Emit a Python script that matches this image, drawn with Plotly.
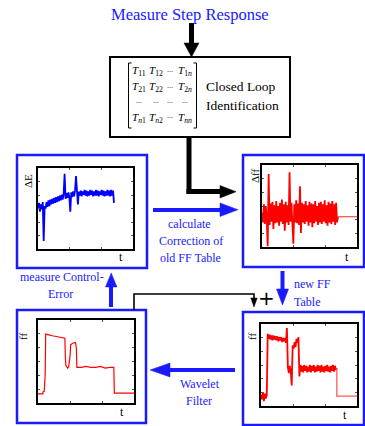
import plotly.graph_objects as go

W, H = 365, 426
SERIF = "Times New Roman, Liberation Serif, Tinos, serif"
BLUE = "#1a1aff"
RED = "#ff0000"

# ---------------- data ----------------
t_dE = [0.00, 0.01, 0.02, 0.03, 0.04, 0.05, 0.06, 0.07, 0.08, 0.09,
        0.10, 0.11, 0.12, 0.13, 0.14, 0.15, 0.16, 0.17, 0.18, 0.19,
        0.20, 0.21, 0.22, 0.23, 0.24, 0.25, 0.26, 0.27, 0.28, 0.29,
        0.30, 0.31, 0.32, 0.33, 0.34, 0.35, 0.36, 0.37, 0.38, 0.39,
        0.40, 0.41, 0.42, 0.43, 0.44, 0.45, 0.46, 0.47, 0.48, 0.49,
        0.50, 0.51, 0.52, 0.53, 0.54, 0.55, 0.56, 0.57, 0.58, 0.59,
        0.60, 0.61, 0.62, 0.63, 0.64, 0.65, 0.66, 0.67, 0.68, 0.69,
        0.70, 0.71, 0.72, 0.73, 0.74, 0.75, 0.76, 0.77, 0.78, 0.79, 0.80]
dE = [0.50, 0.57, 0.46, 0.55, 0.49, 0.58, 0.10, 0.53, 0.50, 0.58,
      0.52, 0.60, 0.53, 0.61, 0.55, 0.62, 0.56, 0.63, 0.57, 0.64,
      0.58, 0.65, 0.59, 0.66, 0.60, 0.67, 0.61, 0.68, 0.93, 0.62,
      0.69, 0.63, 0.70, 0.64, 0.46, 0.70, 0.64, 0.71, 0.65, 0.72,
      0.90, 0.66, 0.55, 0.71, 0.66, 0.72, 0.65, 0.71, 0.67, 0.73,
      0.66, 0.72, 0.65, 0.71, 0.66, 0.73, 0.67, 0.72, 0.65, 0.71,
      0.66, 0.73, 0.66, 0.72, 0.65, 0.71, 0.67, 0.73, 0.66, 0.72,
      0.65, 0.71, 0.66, 0.73, 0.66, 0.72, 0.65, 0.73, 0.66, 0.72, 0.57]

t_dff = t_dE
dff = [0.42, 0.30, 0.52, 0.28, 0.50, 0.33, 0.01, 0.89, 0.27, 0.53,
       0.31, 0.55, 0.22, 0.51, 0.29, 0.56, 0.30, 0.50, 0.26, 0.54,
       0.31, 0.58, 0.28, 0.52, 0.20, 0.55, 0.30, 0.51, 0.27, 0.91,
       0.31, 0.54, 0.28, 0.04, 0.52, 0.30, 0.57, 0.29, 0.53, 0.27,
       0.74, 0.17, 0.54, 0.30, 0.52, 0.28, 0.56, 0.31, 0.51, 0.26,
       0.55, 0.30, 0.53, 0.24, 0.52, 0.29, 0.56, 0.31, 0.50, 0.27,
       0.54, 0.30, 0.55, 0.28, 0.52, 0.31, 0.57, 0.29, 0.51, 0.26,
       0.55, 0.30, 0.53, 0.28, 0.56, 0.31, 0.52, 0.27, 0.54, 0.30, 0.37]
t_dff_tail = [0.80, 1.00]
dff_tail = [0.37, 0.37]

t_ff_new = t_dE[:80]
ff_new = [0.14, 0.08, 0.17, 0.06, 0.15, 0.09, 0.13, 0.88, 0.82, 0.87,
          0.81, 0.86, 0.80, 0.86, 0.81, 0.85, 0.80, 0.85, 0.79, 0.84,
          0.80, 0.84, 0.78, 0.83, 0.79, 0.83, 0.77, 0.95, 0.47, 0.40,
          0.49, 0.42, 0.25, 0.74, 0.70, 0.78, 0.72, 0.82, 0.77, 0.84,
          0.36, 0.50, 0.42, 0.49, 0.41, 0.50, 0.43, 0.49, 0.41, 0.48,
          0.42, 0.50, 0.41, 0.49, 0.43, 0.50, 0.41, 0.48, 0.42, 0.50,
          0.43, 0.49, 0.41, 0.50, 0.42, 0.48, 0.41, 0.49, 0.43, 0.50,
          0.42, 0.48, 0.41, 0.49, 0.43, 0.50, 0.42, 0.49, 0.44, 0.46]
t_ff_new_tail = [0.79, 0.79, 1.00]
ff_new_tail = [0.46, 0.12, 0.12]

t_ff = [0.00, 0.05, 0.05, 0.065, 0.075, 0.08, 0.15, 0.22, 0.28, 0.285,
        0.29, 0.31, 0.32, 0.335, 0.34, 0.36, 0.39, 0.40, 0.405, 0.45,
        0.50, 0.55, 0.60, 0.65, 0.70, 0.75, 0.79, 0.795, 1.00]
ff = [0.11, 0.11, 0.13, 0.14, 0.35, 0.83, 0.81, 0.79, 0.78, 0.55,
      0.45, 0.42, 0.44, 0.58, 0.70, 0.72, 0.73, 0.66, 0.43, 0.43,
      0.44, 0.43, 0.43, 0.44, 0.42, 0.43, 0.43, 0.12, 0.12]

matrix_cells = [
    ["<i>T</i><sub>11</sub>", "<i>T</i><sub>12</sub>", "...", "<i>T</i><sub>1<i>n</i></sub>"],
    ["<i>T</i><sub>21</sub>", "<i>T</i><sub>22</sub>", "...", "<i>T</i><sub>2<i>n</i></sub>"],
    ["...", "...", "...", "..."],
    ["<i>T</i><sub><i>n</i>1</sub>", "<i>T</i><sub><i>n</i>2</sub>", "...", "<i>T</i><sub><i>nn</i></sub>"],
]

# ---------------- helpers ----------------
def X(px):
    return px / W

def Y(py):
    return 1 - py / H

def line(x0, y0, x1, y1, color, width):
    return dict(type="line", xref="paper", yref="paper",
                x0=X(x0), y0=Y(y0), x1=X(x1), y1=Y(y1),
                line=dict(color=color, width=width))

def tri(pts, color):
    p = "M " + " L ".join(f"{X(a):.5f},{Y(b):.5f}" for a, b in pts) + " Z"
    return dict(type="path", xref="paper", yref="paper", path=p,
                fillcolor=color, line=dict(color=color, width=0.5))

def rect(x0, y0, x1, y1, color, width):
    return dict(type="rect", xref="paper", yref="paper",
                x0=X(x0), y0=Y(y1), x1=X(x1), y1=Y(y0),
                line=dict(color=color, width=width), fillcolor="rgba(0,0,0,0)")

def text(s, x, y, size=12, color="black", anchor="center", angle=0, family=SERIF):
    return dict(text=s, x=X(x), y=Y(y), xref="paper", yref="paper",
                showarrow=False, xanchor=anchor, yanchor="middle",
                textangle=angle, font=dict(family=family, size=size, color=color))

fig = go.Figure()

# subplot panels: (x0, y0, x1, y1) in pixels
panels = [
    (38, 168, 133, 249),   # dE
    (262, 165, 357, 247),  # dff
    (38, 320, 134, 403),   # ff (filtered)
    (261, 324, 357, 406),  # ff new
]

series = [
    (1, t_dE, dE, "#0000ff", 1.8),
    (2, t_dff, dff, RED, 1.8),
    (2, t_dff_tail, dff_tail, "#ff5a5a", 1.3),
    (3, t_ff, ff, RED, 1.2),
    (4, t_ff_new, ff_new, RED, 1.8),
    (4, t_ff_new_tail, ff_new_tail, "#ff5a5a", 1.3),
]
for k, xs, ys, c, w in series:
    sfx = "" if k == 1 else str(k)
    fig.add_trace(go.Scatter(x=xs, y=ys, mode="lines", line=dict(color=c, width=w),
                             xaxis="x" + sfx, yaxis="y" + sfx, hoverinfo="skip"))

layout_axes = {}
for i, (x0, y0, x1, y1) in enumerate(panels, start=1):
    sfx = "" if i == 1 else str(i)
    common = dict(range=[0, 1], showline=True, mirror="ticks", linecolor="black",
                  linewidth=1.8, ticks="inside", ticklen=2, tickcolor="#555",
                  showticklabels=False, showgrid=False, zeroline=False, fixedrange=True)
    layout_axes["xaxis" + sfx] = dict(domain=[X(x0), X(x1)], anchor="y" + sfx,
                                      tickvals=[1 / 3, 2 / 3], **common)
    layout_axes["yaxis" + sfx] = dict(domain=[Y(y1), Y(y0)], anchor="x" + sfx,
                                      tickvals=[1 / 6, 2 / 6, 3 / 6, 4 / 6, 5 / 6], **common)

shapes = []
# title arrow
shapes.append(line(191.5, 23, 191.5, 44, "black", 5))
shapes.append(tri([(184, 43), (199, 43), (191.5, 57)], "black"))
# identification box
shapes.append(rect(110, 57, 290, 137, "black", 2))
# matrix brackets
shapes.append(dict(type="path", xref="paper", yref="paper",
                   path=f"M {X(131.5)},{Y(63)} L {X(128.5)},{Y(63)} L {X(128.5)},{Y(128)} L {X(131.5)},{Y(128)}",
                   line=dict(color="black", width=1)))
shapes.append(dict(type="path", xref="paper", yref="paper",
                   path=f"M {X(193.5)},{Y(63)} L {X(196.5)},{Y(63)} L {X(196.5)},{Y(128)} L {X(193.5)},{Y(128)}",
                   line=dict(color="black", width=1)))
# black connector from box to dff panel
shapes.append(line(189, 137, 189, 194, "black", 5))
shapes.append(line(186.5, 191.5, 222, 191.5, "black", 5))
shapes.append(tri([(220, 185.5), (220, 198), (236, 191.7)], "black"))
# blue panel boxes
shapes.append(rect(17, 155, 147, 268, BLUE, 2.5))
shapes.append(rect(243, 155, 364, 267, BLUE, 2.5))
shapes.append(rect(17, 310, 146, 423, BLUE, 2.5))
shapes.append(rect(243, 312, 364, 425, BLUE, 2.5))
# blue arrow right (calculate)
shapes.append(line(153, 210, 222, 210, BLUE, 4))
shapes.append(tri([(220, 203), (220, 216.5), (238, 209.7)], BLUE))
# blue arrow down (new FF table)
shapes.append(line(282.5, 271, 282.5, 291, BLUE, 4))
shapes.append(tri([(276.5, 289), (288.5, 289), (282.5, 305)], BLUE))
# thin black feedback line
shapes.append(dict(type="path", xref="paper", yref="paper",
                   path=f"M {X(134)},{Y(310)} L {X(134)},{Y(294)} L {X(254)},{Y(294)} L {X(254)},{Y(300)}",
                   line=dict(color="black", width=1.6)))
shapes.append(tri([(250.8, 298), (257.2, 298), (254, 307)], "black"))
# blue arrow up (measure control error)
shapes.append(line(111, 307, 111, 285, BLUE, 4))
shapes.append(tri([(105.5, 287), (117, 287), (111.2, 273)], BLUE))
# blue arrow left (wavelet filter)
shapes.append(line(235, 370, 168, 370, BLUE, 4))
shapes.append(tri([(170, 363), (170, 377), (150, 370)], BLUE))

ann = []
ann.append(text("Measure Step Response", 190, 15, size=16.5, color=BLUE))
col_x = [138.5, 156, 170, 184.5]
row_y = [71, 87, 102, 118]
for r, row in enumerate(matrix_cells):
    for c, cell in enumerate(row):
        ann.append(text(cell, col_x[c], row_y[r] if cell != "..." else row_y[r] - 2,
                        size=11 if cell != "..." else 8))
ann.append(text("Closed Loop", 204, 86, size=13.5, anchor="left"))
ann.append(text("Identification", 204, 105, size=13.5, anchor="left"))
ann.append(text("calculate", 189, 224, size=12, color=BLUE))
ann.append(text("Correction of", 191, 241, size=12, color=BLUE))
ann.append(text("old FF Table", 190, 258, size=12, color=BLUE))
ann.append(text("new FF", 292, 284, size=12, color=BLUE, anchor="left"))
ann.append(text("Table", 292, 302, size=12, color=BLUE, anchor="left"))
ann.append(text("measure Control-", 62, 277, size=12, color=BLUE))
ann.append(text("Error", 60, 294, size=12, color=BLUE))
ann.append(text("Wavelet", 200, 384, size=12, color=BLUE))
ann.append(text("Filter", 199, 401, size=12, color=BLUE))
ann.append(text("+", 266.5, 298, size=20, family="DejaVu Sans"))
# axis labels
ann.append(text("ΔE", 28, 181, size=11, angle=-90))
ann.append(text("Δff", 255, 176, size=11, angle=-90))
ann.append(text("ff", 23, 337, size=11, angle=-90))
ann.append(text("ff", 252, 337, size=11, angle=-90))
ann.append(text("t", 121, 257, size=12))
ann.append(text("t", 347, 257, size=12))
ann.append(text("t", 122, 412, size=12))
ann.append(text("t", 345, 415, size=12))

fig.update_layout(width=W, height=H, autosize=False,
                  margin=dict(l=0, r=0, t=0, b=0, pad=0),
                  paper_bgcolor="white", plot_bgcolor="white",
                  showlegend=False, shapes=shapes, annotations=ann,
                  font=dict(family=SERIF),
                  **layout_axes)

fig.write_html("out.html", config={"displayModeBar": False})
